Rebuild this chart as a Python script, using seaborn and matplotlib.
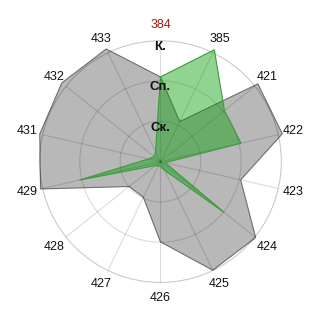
import numpy as np
import matplotlib
matplotlib.use("Agg")
import matplotlib.pyplot as plt
import seaborn as sns

categories = ['384', '385', '421', '422', '423', '424', '425', '426', '427', '428', '429', '431', '432', '433']
gray_values = [2.10, 1.10, 3.09, 3.10, 2.04, 3.02, 2.99, 1.99, 0.98, 0.99, 3.05, 3.07, 3.13, 3.10]
green_values = [2.10, 3.08, 2.03, 2.05, 0.12, 2.03, 0.24, 0.12, 0.12, 0.16, 2.06, 0.30, 0.20, 0.28]
level_labels = ['Ск.', 'Сп.', 'К.']
level_values = [1, 2, 3]

sns.set_theme(style="white")
plt.rcParams['font.family'] = ['Liberation Sans', 'DejaVu Sans']

fig = plt.figure(figsize=(3.2, 3.2), dpi=100)
ax = fig.add_axes([0.1234, 0.117, 0.756, 0.756], projection='polar')
ax.set_theta_zero_location('N')
ax.set_theta_direction(-1)

n = len(categories)
angles = np.linspace(0, 2 * np.pi, n, endpoint=False)
ang_c = np.concatenate([angles, angles[:1]])
g = np.concatenate([gray_values, gray_values[:1]])
gr = np.concatenate([green_values, green_values[:1]])

ax.fill(ang_c, g, facecolor='#b8b8b8', edgecolor='#6e6e6e', linewidth=0.8, zorder=2, clip_on=False)
ax.fill(ang_c, gr, facecolor=(0.02, 0.62, 0.02, 0.44), edgecolor='#3d9b3d', linewidth=0.8, zorder=3, clip_on=False)

ax.set_ylim(0, 3)
ax.set_yticks(level_values)
ax.set_yticklabels([])
ax.set_xticks(angles)
ax.set_xticklabels([])
ax.grid(True, color='black', alpha=0.14, linewidth=0.8)
ax.set_axisbelow(False)
for gl in ax.xaxis.get_gridlines() + ax.yaxis.get_gridlines():
    gl.set_zorder(4)
    gl.set_color('black')
    gl.set_alpha(0.14)
ax.spines['polar'].set_color((0, 0, 0, 0.14))
ax.spines['polar'].set_linewidth(0.8)
ax.set_facecolor('white')

for a, lab in zip(angles, categories):
    col = '#9b1c1c' if lab == '384' else '#111111'
    ax.text(a, 3.38, lab, ha='center', va='center', fontsize=9, color=col, zorder=6)

for lv, name in zip(level_values, level_labels):
    ax.text(0, lv - 0.16, name, ha='center', va='center', fontsize=9.5,
            fontweight='bold', color='#111111', zorder=6)

fig.savefig('out.png', dpi=100, facecolor='white')
